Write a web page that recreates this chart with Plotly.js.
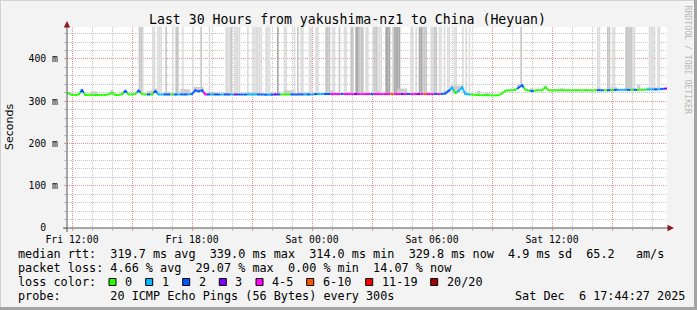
<!DOCTYPE html>
<html><head><meta charset="utf-8">
<script src="https://cdn.plot.ly/plotly-3.0.1.min.js"></script>
<style>html,body{margin:0;padding:0;background:#f3f3f3;}#chart{width:697px;height:310px;}</style>
</head><body><div id="chart"></div>
<script>
// ---- data ----
const startHour = 11.75;          // Fri 11:45 (hours since Fri 00:00)
const medianStep = 1/6;           // 10 min bins
const spikeStep = 1/12;           // 5 min bins

const medianRtt = [
319,315,315,316,326,315,315,315,314,315,
315,315,316,320,315,315,316,325,316,316,
317,325,317,316,316,316,324,316,316,316,
316,316,316,316,316,316,316,317,326,323,
326,316,316,316,316,316,316,316,316,316,
316,316,316,316,316,316,316,316,316,316,
315,316,316,316,316,316,316,316,316,316,
316,316,316,316,317,317,317,317,317,317,
317,317,317,317,317,317,317,317,317,317,
317,317,317,317,317,317,317,317,317,317,
317,317,317,317,317,317,317,317,317,317,
317,317,317,318,324,332,319,324,333,317,
316,316,315,314,315,314,314,314,314,314,
318,325,326,326,327,332,338,327,326,324,
326,326,326,333,326,326,326,326,326,326,
326,326,326,326,326,326,326,326,326,326,
326,326,326,326,327,327,327,327,327,327,
327,327,327,327,328,328,328,328,329,330];

const lossClass = [
0,0,0,0,2,0,0,0,0,0,
0,0,0,0,0,0,0,2,0,0,
0,2,0,0,2,0,2,1,1,2,
2,0,2,1,2,2,1,2,2,2,
2,4,2,1,2,2,1,2,2,1,
3,2,2,2,1,1,1,2,2,2,
1,2,3,2,0,0,0,2,2,2,
2,1,2,1,2,1,1,2,2,4,
4,4,2,4,4,4,3,4,4,4,
4,2,4,4,4,4,4,5,4,4,
3,4,2,4,4,3,4,5,4,4,
2,4,2,2,2,1,0,1,1,1,
1,0,0,0,0,0,0,0,0,0,
0,0,0,0,0,2,2,0,0,2,
0,0,0,0,0,0,0,0,0,0,
0,0,0,0,0,0,0,0,0,2,
2,0,2,0,2,1,1,1,2,0,
2,0,0,0,1,1,2,1,2,3];

const smokeTop = [
319,315,315,316,329,315,315,323,323,315,
315,315,316,326,315,315,322,325,316,316,
317,328,317,316,324,326,330,316,316,322,
322,316,316,316,329,329,328,317,334,334,
334,316,322,322,321,316,316,320,320,316,
316,316,316,316,322,322,322,321,316,316,
320,320,320,316,316,326,326,326,316,321,
321,321,321,316,317,317,317,317,326,326,
317,317,317,317,317,317,317,317,317,317,
317,317,324,324,317,317,317,317,317,330,
330,330,317,317,317,317,317,317,317,317,
317,317,317,326,327,337,337,337,337,317,
316,316,315,325,315,319,319,314,314,314,
318,325,326,326,327,341,341,327,326,331,
326,326,326,337,326,326,326,326,331,326,
326,326,326,326,326,326,326,326,326,332,
326,326,333,333,333,327,327,331,331,331,
327,338,327,327,333,333,333,333,329,330];

const spikeShade = [
0,0,0,0,0,0,0,0,0,0, 0,0,0,0,0,0,0,0,0,0, 0,0,0,0,0,0,0,0,0,0,
0,0,0,0,0,0,0,0,0,0, 0,0,0,2,2,1,0,0,0,0, 0,1,1,0,1,1,1,0,0,2,
0,0,0,1,0,2,2,0,0,1, 0,0,0,0,0,1,0,0,0,0, 2,0,0,0,0,1,0,0,0,0,
0,0,0,0,0,1,1,1,2,0, 1,1,1,1,0,0,0,0,1,0, 0,1,1,1,1,1,1,0,0,1,
1,1,0,0,0,0,3,0,0,0, 1,1,0,0,0,0,1,0,2,0, 1,1,0,0,0,1,1,0,0,1,
1,0,0,0,0,2,2,2,0,1, 1,0,0,2,0,0,1,1,0,0, 2,2,0,3,3,2,2,2,0,1,
1,0,0,1,2,2,1,1,1,0, 0,3,3,3,0,1,3,3,3,3, 0,0,0,0,0,0,1,1,0,1,
0,3,3,2,2,2,0,0,1,1, 2,2,0,1,1,0,1,0,1,1, 0,0,1,1,0,0,0,1,0,1,
0,1,0,0,0,0,0,0,0,0, 0,0,0,0,0,0,0,0,0,0, 0,0,0,0,0,0,0,0,0,0,
0,0,2,0,0,0,0,0,0,0, 0,0,0,0,0,0,0,0,0,0, 0,0,0,0,0,0,0,0,0,0,
0,0,0,0,0,0,0,0,0,0, 0,0,0,0,0,0,0,0,1,1, 0,0,0,0,2,2,0,1,1,0,
0,0,0,0,0,2,2,2,2,1, 1,0,0,0,0,0,0,0,0,1, 1,1,1,0,1,1,0,0,0,0];

const lossLabels = ["0","1","2","3","4-5","6-10","11-19","20/20"];
const lossColors = ["#26ff00","#00b8ff","#0059ff","#7e00ff","#ff00ff","#ff5500","#ff0000","#a10000"];
const shadeColors = ["rgba(0,0,0,0)","#dcdcdc","#c6c6c6","#a9a9a9"];

const xTickHours = [12,15,18,21,24,27,30,33,36,39];
const xTickLabels = ["Fri 12:00","","Fri 18:00","","Sat 00:00","","Sat 06:00","","Sat 12:00",""];
const yTickVals = [0,100,200,300,400];
const yTickLabels = ["0\u00a0\u00a0","100 m","200 m","300 m","400 m"];

const titleText = "Last 30 Hours from yakushima-nz1 to China (Heyuan)";
const statMedian = "median rtt:  319.7 ms avg  339.0 ms max  314.0 ms min  329.8 ms now  4.9 ms sd  65.2   am/s";
const statLoss = "packet loss: 4.66 % avg  29.07 % max  0.00 % min  14.07 % now";
const lossColorLabel = "loss color:";
const probeText = "probe:       20 ICMP Echo Pings (56 Bytes) every 300s";
const dateText = "Sat Dec  6 17:44:27 2025";
const watermark = "RRDTOOL / TOBI OETIKER";

// ---- geometry ----
const W=697,H=310,L=67,R=667,T=27,B=228;
const yMax = 475.7;
const px = x => (x-L)/(R-L);
const py = y => (B-y)/(B-T);
const nb = s => s.replace(/ /g,"\u00a0");
const MONO = "DejaVu Sans Mono";

const traces = [];

// spikes (full-height smoke)
{
  const xs=[],bs=[],hs=[],cs=[];
  spikeShade.forEach((s,j)=>{
    if(!s) return;
    const base = medianRtt[Math.floor(j/2)] + 2;
    xs.push(startHour + (j+0.5)*spikeStep); bs.push(base); hs.push(500-base); cs.push(shadeColors[s]);
  });
  traces.push({type:'bar',x:xs,y:hs,base:bs,width:spikeStep,marker:{color:cs,line:{width:0}},hoverinfo:'skip',showlegend:false});
}
// smoke around median
{
  const xs=[],bs=[],hs=[];
  smokeTop.forEach((v,i)=>{
    if(v <= medianRtt[i]+1) return;
    const base = medianRtt[i]-1;
    xs.push(startHour + (i+0.5)*medianStep); bs.push(base); hs.push(v-base);
  });
  traces.push({type:'bar',x:xs,y:hs,base:bs,width:medianStep,marker:{color:'#cdcdcd',line:{width:0}},hoverinfo:'skip',showlegend:false});
}
// median line coloured by loss
{
  const n = medianRtt.length;
  const X = i => startHour + (i+0.5)*medianStep;
  lossColors.forEach((col,c)=>{
    const xs=[],ys=[];
    for(let i=0;i<n;i++){
      if(lossClass[i]!==c) continue;
      if(i>0){xs.push((X(i-1)+X(i))/2); ys.push((medianRtt[i-1]+medianRtt[i])/2);}
      else {xs.push(startHour); ys.push(medianRtt[0]);}
      xs.push(X(i)); ys.push(medianRtt[i]);
      if(i<n-1){xs.push((X(i)+X(i+1))/2); ys.push((medianRtt[i]+medianRtt[i+1])/2);}
      else {xs.push(startHour+n*medianStep); ys.push(medianRtt[i]);}
      xs.push(null); ys.push(null);
    }
    if(xs.length) traces.push({type:'scatter',mode:'lines',x:xs,y:ys,line:{color:col,width:2},connectgaps:false,hoverinfo:'skip',showlegend:false});
  });
}

// ---- shapes & annotations ----
const shapes = [];
const ann = [];
const pline = (x0,y0,x1,y1,color,w)=>({type:'line',xref:'paper',yref:'paper',x0:px(x0),y0:py(y0),x1:px(x1),y1:py(y1),line:{color:color,width:w}});
// frame
shapes.push(pline(0,0.5,697,0.5,'#d2d2d2',1));
shapes.push(pline(0.5,0,0.5,310,'#d2d2d2',1));
shapes.push(pline(0,308.5,697,308.5,'#a3a3a3',3));
shapes.push(pline(695.5,0,695.5,310,'#a3a3a3',3));
// axes
shapes.push(pline(L,232,L,24,'#555555',1));
shapes.push(pline(63,B,670,B,'#555555',1));
shapes.push({type:'path',xref:'paper',yref:'paper',path:`M${px(L)},${py(21)} L${px(L-3.2)},${py(27.5)} L${px(L+3.2)},${py(27.5)} Z`,fillcolor:'#8b1a1a',line:{width:0}});
shapes.push({type:'path',xref:'paper',yref:'paper',path:`M${px(674)},${py(B)} L${px(667.5)},${py(B-3.2)} L${px(667.5)},${py(B+3.2)} Z`,fillcolor:'#8b1a1a',line:{width:0}});

const txt = (x,y,s,size,opts={})=>Object.assign({xref:'paper',yref:'paper',x:px(x),y:py(y),text:nb(s),showarrow:false,xanchor:'left',yanchor:'middle',font:{family:MONO,size:size,color:'#000'}},opts);
ann.push(txt(16,254,statMedian,11.8));
ann.push(txt(16,268.3,statLoss,11.8));
ann.push(txt(16,282.3,lossColorLabel,11.8));
ann.push(txt(16,296,probeText,11.8));
ann.push(txt(513,296,dateText,11.8));
const boxX = [109,145.7,182.7,219.3,256,306.7,365.7,430.7];
lossLabels.forEach((lab,k)=>{
  shapes.push({type:'rect',xref:'paper',yref:'paper',x0:px(boxX[k]),x1:px(boxX[k]+7),y0:py(278.5),y1:py(285.5),fillcolor:lossColors[k],line:{color:'#000',width:1}});
  ann.push(txt(boxX[k]+14,282.3,lab,11.8));
});
ann.push({xref:'paper',yref:'paper',x:px(10),y:py(127),text:'Seconds',textangle:-90,showarrow:false,xanchor:'center',yanchor:'middle',font:{family:'DejaVu Sans',size:11,color:'#000'}});
ann.push({xref:'paper',yref:'paper',x:px(688),y:py(59.5),text:nb(watermark),textangle:90,showarrow:false,xanchor:'center',yanchor:'middle',font:{family:MONO,size:8.2,color:'#b8b8b8'}});

const gridDash = '1px,1px';
const layout = {
  width:W,height:H,
  margin:{l:L,r:W-R,t:T,b:H-B,pad:0},
  paper_bgcolor:'#f3f3f3',plot_bgcolor:'#ffffff',
  title:{text:titleText,font:{family:MONO,size:13.2,color:'#000'},xref:'container',yref:'container',x:347.5/W,y:1-19/H,xanchor:'center',yanchor:'middle'},
  showlegend:false,
  barmode:'overlay',
  xaxis:{range:[startHour,startHour+30],tickmode:'array',tickvals:xTickHours,ticktext:xTickLabels,
    showgrid:true,gridcolor:'#ee8f8f',griddash:gridDash,gridwidth:1,zeroline:false,showline:false,
    ticks:'outside',ticklen:2,tickcolor:'#ee8f8f',tickfont:{family:MONO,size:9.8,color:'#000'},
    minor:{dtick:1,tick0:12,showgrid:true,gridcolor:'#c4c4c4',griddash:gridDash,gridwidth:1,ticks:'outside',ticklen:2,tickcolor:'#bbbbbb'},
    fixedrange:true},
  yaxis:{range:[0,yMax],tickmode:'array',tickvals:yTickVals,ticktext:yTickLabels,
    showgrid:true,gridcolor:'#ee8f8f',griddash:gridDash,gridwidth:1,zeroline:false,showline:false,
    ticks:'outside',ticklen:2,tickcolor:'#ee8f8f',ticklabelstandoff:4,tickfont:{family:MONO,size:9.8,color:'#000'},
    minor:{dtick:20,tick0:0,showgrid:true,gridcolor:'#c4c4c4',griddash:gridDash,gridwidth:1,ticks:'outside',ticklen:2,tickcolor:'#bbbbbb'},
    fixedrange:true},
  shapes:shapes,annotations:ann
};
Plotly.newPlot('chart',traces,layout,{staticPlot:true,displayModeBar:false});
</script></body></html>
